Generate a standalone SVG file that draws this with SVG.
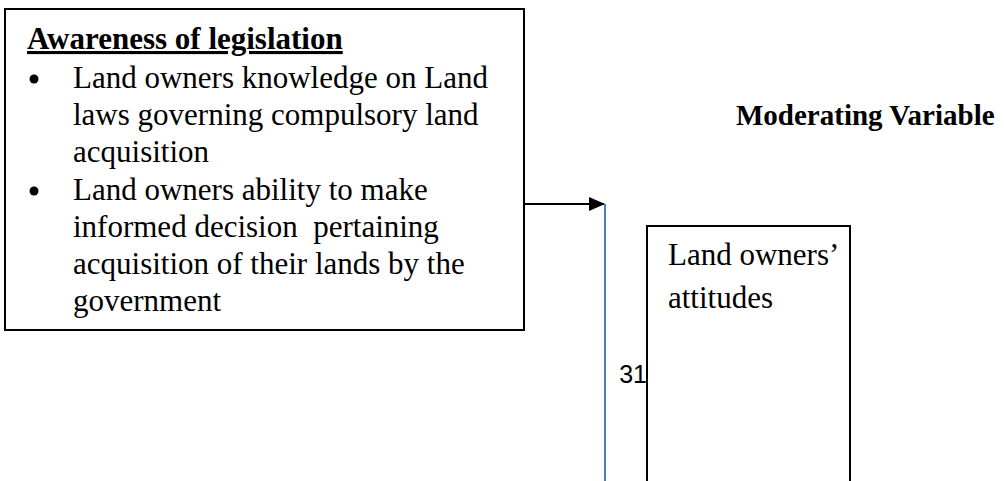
<svg xmlns="http://www.w3.org/2000/svg" width="1004" height="481" viewBox="0 0 1004 481">
<style>
.box{fill:#fff;stroke:#000;stroke-width:2}
.t{font-family:"Liberation Serif","Times New Roman",serif;font-size:31px;fill:#000}
.b{font-weight:bold}
.m{font-size:29px}
.pn{font-family:"Liberation Sans",Arial,sans-serif;font-size:25px;fill:#000}
</style>
<defs>
<marker id="ah" markerWidth="16" markerHeight="14" refX="15" refY="7" orient="auto" markerUnits="userSpaceOnUse">
<path d="M0,0 L16,7 L0,14 Z" fill="#000"/>
</marker>
</defs>
<rect width="1004" height="481" fill="#fff"/>
<g id="awareness">
<rect class="box" x="5" y="9" width="519" height="321"/>
<text class="t b" x="27" y="49" text-decoration="underline">Awareness of legislation</text>
<circle cx="34" cy="79" r="4.5"/>
<text class="t" x="73" y="88">Land owners knowledge on Land</text>
<text class="t" x="73" y="125">laws governing compulsory land</text>
<text class="t" x="73" y="162">acquisition</text>
<circle cx="34" cy="191" r="4.5"/>
<text class="t" x="73" y="200">Land owners ability to make</text>
<text class="t" x="73" y="237" xml:space="preserve">informed decision  pertaining</text>
<text class="t" x="73" y="274">acquisition of their lands by the</text>
<text class="t" x="73" y="311">government</text>
</g>
<g id="moderating-label">
<text class="t b m" x="736" y="125">Moderating Variable</text>
</g>
<g id="attitudes">
<rect class="box" x="647" y="226" width="203" height="260"/>
<text class="t" x="668" y="265">Land owners’</text>
<text class="t" x="668" y="308">attitudes</text>
</g>
<g id="page-number">
<text class="pn" x="647" y="383" text-anchor="end">31</text>
</g>
<g id="connectors">
<line x1="524" y1="204" x2="604" y2="204" stroke="#000" stroke-width="2" marker-end="url(#ah)"/>
<line x1="605" y1="204" x2="605" y2="481" stroke="#4a7ebb" stroke-width="2"/>
</g>
</svg>
